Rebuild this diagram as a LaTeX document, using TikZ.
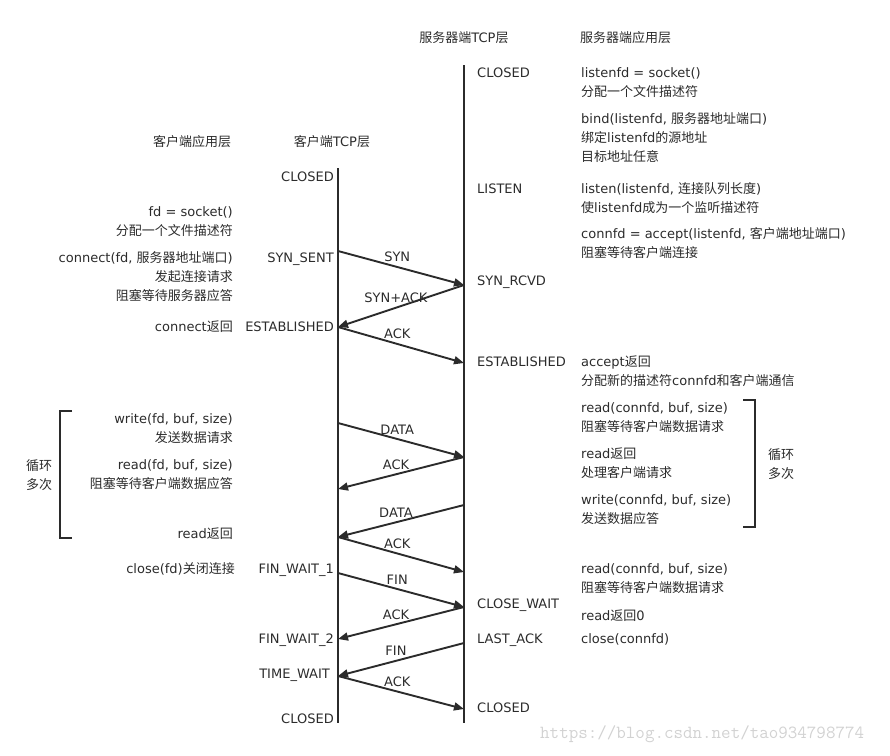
\documentclass[tikz,border=0pt]{standalone}
\usepackage{fontspec}
\setmainfont{DejaVu Sans}
\newfontfamily\cjk{Noto Sans CJK SC}
\newcommand\zh[1]{{\cjk #1}}
\usetikzlibrary{arrows.meta}
\definecolor{ink}{HTML}{2B2B2B}
\definecolor{wmark}{HTML}{D2D2D2}
\begin{document}
\begin{tikzpicture}[x=1pt,y=-1pt,
  txt/.style={font=\fontsize{13}{19}\selectfont, text=ink, inner sep=0pt},
  capp/.style={txt, align=right, anchor=base east},
  sapp/.style={txt, align=left, anchor=base west},
  cstate/.style={txt, anchor=base east},
  sstate/.style={txt, anchor=base west},
  head/.style={txt, anchor=center},
  looptxt/.style={txt, align=center, anchor=center},
  life/.style={draw=ink, line width=2.4pt},
  msg/.style={draw=ink, line width=1.9pt, -{Triangle[length=10pt,width=8pt]}},
  lrlabel/.style={txt, pos=0.47, anchor=south, yshift=4pt},
  rllabel/.style={txt, pos=0.54, anchor=south, yshift=4pt},
  bracket/.style={draw=ink, line width=1.8pt},
]
\useasboundingbox (0,0) rectangle (890,755);

% headers
\node[head] (hsrvtcp) at (464,38) {\zh{服务器端}TCP\zh{层}};
\node[txt, anchor=west] (hsrvapp) at (580,38) {\zh{服务器端应用层}};
\node[head] (hcliapp) at (192,142) {\zh{客户端应用层}};
\node[head] (hclitcp) at (332,142) {\zh{客户端}TCP\zh{层}};

% lifelines
\coordinate (ctop) at (338,168);
\coordinate (cbot) at (338,723);
\coordinate (stop) at (464,65);
\coordinate (sbot) at (464,723);
\draw[life] (ctop) -- (cbot);
\draw[life] (stop) -- (sbot);

% client states
\node[cstate] (cs-closed) at (334,181) {CLOSED};
\node[cstate] (cs-synsent) at (334,262) {SYN\_SENT};
\node[cstate] (cs-est) at (334,331) {ESTABLISHED};
\node[cstate] (cs-fw1) at (334,573) {FIN\_WAIT\_1};
\node[cstate] (cs-fw2) at (334,643) {FIN\_WAIT\_2};
\node[cstate] (cs-tw) at (330,678) {TIME\_WAIT};
\node[cstate] (cs-closed2) at (334,723) {CLOSED};

% client application (anchored at the baseline of the last line)
\node[capp] (ca-socket) at (233,235) {fd = socket()\\\zh{分配一个文件描述符}};
\node[capp] (ca-connect) at (233,300) {connect(fd, \zh{服务器地址端口})\\\zh{发起连接请求}\\\zh{阻塞等待服务器应答}};
\node[capp] (ca-connret) at (233,331) {connect\zh{返回}};
\node[capp] (ca-write) at (233,442) {write(fd, buf, size)\\\zh{发送数据请求}};
\node[capp] (ca-read) at (233,488) {read(fd, buf, size)\\\zh{阻塞等待客户端数据应答}};
\node[capp] (ca-readret) at (233,538) {read\zh{返回}};
\node[capp] (ca-close) at (235,573) {close(fd)\zh{关闭连接}};
\node[looptxt] (cl-loop) at (39,475) {\zh{循环}\\\zh{多次}};
\coordinate (clb1) at (72,411);
\coordinate (clb2) at (60,411);
\coordinate (clb3) at (60,538);
\coordinate (clb4) at (72,538);
\draw[bracket] (clb1) -- (clb2) -- (clb3) -- (clb4);

% server states
\node[sstate] (ss-closed) at (477,77) {CLOSED};
\node[sstate] (ss-listen) at (477,193) {LISTEN};
\node[sstate] (ss-synrcvd) at (477,285) {SYN\_RCVD};
\node[sstate] (ss-est) at (477,366) {ESTABLISHED};
\node[sstate] (ss-cw) at (477,608) {CLOSE\_WAIT};
\node[sstate] (ss-la) at (477,643) {LAST\_ACK};
\node[sstate] (ss-closed2) at (477,712) {CLOSED};

% server application (anchored at the baseline of the last line)
\node[sapp] (sa-socket) at (581,96) {listenfd = socket()\\\zh{分配一个文件描述符}};
\node[sapp] (sa-bind) at (581,161) {bind(listenfd, \zh{服务器地址端口})\\\zh{绑定}listenfd\zh{的源地址}\\\zh{目标地址任意}};
\node[sapp] (sa-listen) at (581,212) {listen(listenfd, \zh{连接队列长度})\\\zh{使}listenfd\zh{成为一个监听描述符}};
\node[sapp] (sa-accept) at (581,257) {connfd = accept(listenfd, \zh{客户端地址端口})\\\zh{阻塞等待客户端连接}};
\node[sapp] (sa-accret) at (581,385) {accept\zh{返回}\\\zh{分配新的描述符}connfd\zh{和客户端通信}};
\node[sapp] (sa-read) at (581,431) {read(connfd, buf, size)\\\zh{阻塞等待客户端数据请求}};
\node[sapp] (sa-readret) at (581,477) {read\zh{返回}\\\zh{处理客户端请求}};
\node[sapp] (sa-write) at (581,523) {write(connfd, buf, size)\\\zh{发送数据应答}};
\node[sapp] (sa-read2) at (581,592) {read(connfd, buf, size)\\\zh{阻塞等待客户端数据请求}};
\node[sapp] (sa-read0) at (581,620) {read\zh{返回}0};
\node[sapp] (sa-close) at (581,643) {close(connfd)};
\node[looptxt] (sl-loop) at (781,464) {\zh{循环}\\\zh{多次}};
\coordinate (slb1) at (743,400);
\coordinate (slb2) at (755,400);
\coordinate (slb3) at (755,527);
\coordinate (slb4) at (743,527);
\draw[bracket] (slb1) -- (slb2) -- (slb3) -- (slb4);

% message end points
\coordinate (c-syn) at (338,251);
\coordinate (s-syn) at (464,285);
\coordinate (c-est) at (338,327);
\coordinate (s-est) at (464,363);
\coordinate (c-d1) at (338,423);
\coordinate (s-d1) at (464,457);
\coordinate (c-a1) at (338,489);
\coordinate (s-d2) at (464,505);
\coordinate (c-d2) at (338,537);
\coordinate (s-a2) at (464,572);
\coordinate (c-fin) at (338,573);
\coordinate (s-cw) at (464,607);
\coordinate (c-fw2) at (338,639);
\coordinate (s-la) at (464,643);
\coordinate (c-tw) at (338,676);
\coordinate (s-cl) at (464,709);

% messages
\draw[msg] (c-syn) -- node[lrlabel] (m1) {SYN} (s-syn);
\draw[msg] (s-syn) -- node[rllabel] (m2) {SYN+ACK} (c-est);
\draw[msg] (c-est) -- node[lrlabel] (m3) {ACK} (s-est);
\draw[msg] (c-d1) -- node[lrlabel] (m4) {DATA} (s-d1);
\draw[msg] (s-d1) -- node[rllabel] (m5) {ACK} (c-a1);
\draw[msg] (s-d2) -- node[rllabel] (m6) {DATA} (c-d2);
\draw[msg] (c-d2) -- node[lrlabel] (m7) {ACK} (s-a2);
\draw[msg] (c-fin) -- node[lrlabel] (m8) {FIN} (s-cw);
\draw[msg] (s-cw) -- node[rllabel] (m9) {ACK} (c-fw2);
\draw[msg] (s-la) -- node[rllabel] (m10) {FIN} (c-tw);
\draw[msg] (c-tw) -- node[lrlabel] (m11) {ACK} (s-cl);

% watermark
\node[anchor=base west, inner sep=0pt, text=wmark, font=\ttfamily\fontsize{18.5}{20}\selectfont] (wm) at (540,738) {https://blog.csdn.net/tao934798774};
\end{tikzpicture}
\end{document}
